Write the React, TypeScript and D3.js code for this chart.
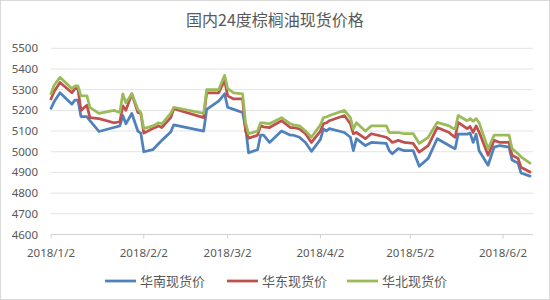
import React from "react";
import * as d3 from "d3";

const dates = [
  "2018-01-02","2018-01-03","2018-01-05","2018-01-09","2018-01-10","2018-01-11","2018-01-12","2018-01-14","2018-01-15","2018-01-18",
  "2018-01-23","2018-01-25","2018-01-26","2018-01-27","2018-01-29","2018-01-31","2018-02-01","2018-02-02","2018-02-05","2018-02-07",
  "2018-02-08","2018-02-11","2018-02-12","2018-02-22","2018-02-23","2018-02-27","2018-03-01","2018-03-02","2018-03-04","2018-03-07",
  "2018-03-08","2018-03-09","2018-03-12","2018-03-13","2018-03-14","2018-03-16","2018-03-20","2018-03-23","2018-03-24","2018-03-26",
  "2018-03-28","2018-03-30","2018-04-02","2018-04-03","2018-04-04","2018-04-05","2018-04-10","2018-04-12","2018-04-13","2018-04-14",
  "2018-04-17","2018-04-19","2018-04-24","2018-04-25","2018-04-26","2018-04-28","2018-04-30","2018-05-03","2018-05-05","2018-05-08",
  "2018-05-11","2018-05-15","2018-05-16","2018-05-17","2018-05-18","2018-05-21","2018-05-22","2018-05-23","2018-05-24","2018-05-25",
  "2018-05-28","2018-05-30","2018-06-01","2018-06-04","2018-06-05","2018-06-07","2018-06-08","2018-06-11"
];

const southChina = [
  5210,5240,5285,5230,5250,5250,5170,5170,5150,5098,
  5117,5125,5175,5135,5185,5100,5090,5000,5010,5040,
  5055,5095,5130,5100,5205,5245,5280,5215,5205,5190,
  5115,4995,5010,5080,5080,5045,5100,5080,5080,5070,
  5045,5002,5060,5110,5100,5112,5093,5070,5005,5063,
  5030,5045,5040,5005,4990,5015,5005,5005,4930,4968,
  5063,5030,5022,5015,5085,5085,5090,5045,5085,5005,
  4935,5022,5030,5022,4960,4945,4897,4882
];

const eastChina = [
  5255,5290,5335,5285,5305,5305,5200,5225,5165,5160,
  5140,5145,5222,5200,5280,5190,5185,5090,5112,5125,
  5117,5165,5208,5165,5285,5285,5345,5270,5255,5255,
  5100,5065,5080,5125,5120,5117,5150,5117,5117,5110,
  5087,5045,5100,5135,5140,5150,5175,5135,5087,5093,
  5063,5087,5070,5060,5045,5055,5045,5040,4998,5030,
  5117,5093,5080,5070,5142,5112,5122,5093,5125,5095,
  4983,5055,5045,5045,4983,4968,4925,4902
];

const northChina = [
  5280,5320,5360,5305,5318,5318,5270,5270,5215,5185,
  5200,5190,5280,5237,5280,5205,5190,5112,5125,5140,
  5135,5185,5215,5185,5300,5300,5370,5305,5285,5280,
  5140,5087,5100,5140,5140,5135,5165,5135,5130,5125,
  5100,5070,5130,5165,5168,5175,5200,5165,5110,5140,
  5100,5125,5125,5093,5093,5093,5087,5087,5040,5070,
  5142,5125,5115,5110,5175,5150,5160,5147,5160,5140,
  5015,5080,5080,5080,5015,4990,4975,4945
];

const seriesNames = ["华南现货价", "华东现货价", "华北现货价"];
const seriesColors = ["#4F81BD", "#C0504D", "#9BBB59"];
const yTicks = [4600, 4700, 4800, 4900, 5000, 5100, 5200, 5300, 5400, 5500];
const xTickDates = ["2018-01-02", "2018-02-02", "2018-03-02", "2018-04-02", "2018-05-02", "2018-06-02"];
const xTickLabels = ["2018/1/2", "2018/2/2", "2018/3/2", "2018/4/2", "2018/5/2", "2018/6/2"];
const title = "国内24度棕榈油现货价格";

const parse = d3.utcParse("%Y-%m-%d");

export default function App() {
  const W = 550, H = 300;
  const x = d3.scaleUtc()
    .domain([parse("2018-01-02")!, parse("2018-06-12")!])
    .range([51, 533]);
  const y = d3.scaleLinear().domain([4600, 5500]).range([234.5, 48.3]);
  const allSeries = [southChina, eastChina, northChina];
  const line = d3.line<[Date, number]>()
    .x((d) => x(d[0]))
    .y((d) => y(d[1]));
  const parsedDates = dates.map((d) => parse(d)!);
  const labelFont = "'Noto Sans', 'DejaVu Sans', sans-serif";
  const cjkFont = "'Noto Sans CJK SC', sans-serif";
  const legendX = [105, 227, 347];

  return (
    <svg width={W} height={H} style={{ position: "absolute", left: 0, top: 0, background: "#fff" }}>
      <rect x={0.5} y={0.5} width={W - 1} height={H - 1} fill="#fff" stroke="#d9d9d9" />
      <text x={275} y={26} textAnchor="middle" fontSize={16} fill="#595959" fontFamily={cjkFont}>
        {title}
      </text>
      {yTicks.map((t) => (
        <g key={t}>
          <line x1={51} x2={533} y1={y(t)} y2={y(t)} stroke={t === 4600 ? "#d0d0d0" : "#e3e3e3"} strokeWidth={1} />
          <text x={38} y={y(t) + 4} textAnchor="end" fontSize={11.5} fill="#595959" fontFamily={labelFont}>
            {t}
          </text>
        </g>
      ))}
      {xTickDates.map((d, i) => {
        const xx = x(parse(d)!);
        return (
          <g key={d}>
            <line x1={xx} x2={xx} y1={y(4600)} y2={y(4600) + 4} stroke="#d0d0d0" />
            <text x={xx} y={257} textAnchor="middle" fontSize={11.5} fill="#595959" fontFamily={labelFont}>
              {xTickLabels[i]}
            </text>
          </g>
        );
      })}
      {allSeries.map((s, i) => (
        <path
          key={i}
          d={line(parsedDates.map((d, j) => [d, s[j]] as [Date, number])) || ""}
          fill="none"
          stroke={seriesColors[i]}
          strokeWidth={2.75}
          strokeLinejoin="round"
          strokeLinecap="round"
        />
      ))}
      {seriesNames.map((n, i) => (
        <g key={n}>
          <line x1={legendX[i]} x2={legendX[i] + 31} y1={281} y2={281} stroke={seriesColors[i]} strokeWidth={2.75} />
          <text x={legendX[i] + 35} y={286} fontSize={13} fill="#595959" fontFamily={cjkFont}>
            {n}
          </text>
        </g>
      ))}
    </svg>
  );
}
